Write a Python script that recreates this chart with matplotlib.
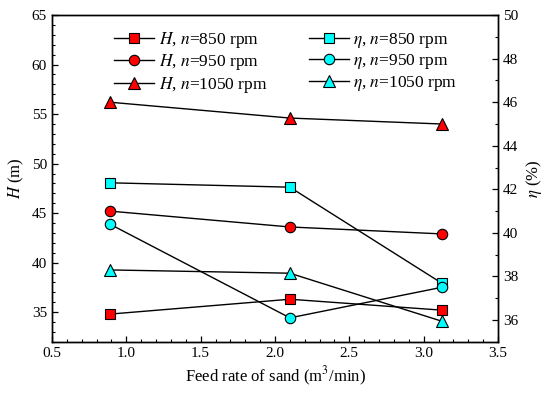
"""Head and efficiency vs. sand feed rate at three rotational speeds."""

import matplotlib
matplotlib.use("Agg")
import matplotlib.pyplot as plt
from matplotlib.ticker import MultipleLocator

# data
feed_rate = [0.89, 2.10, 3.12]
speeds = [850, 950, 1050]
head = {
    850: [34.8, 36.3, 35.2],
    950: [45.2, 43.6, 42.9],
    1050: [56.2, 54.6, 54.0],
}
eff = {
    850: [42.3, 42.1, 37.7],
    950: [40.4, 36.1, 37.5],
    1050: [38.3, 38.15, 35.95],
}
markers = {850: "s", 950: "o", 1050: "^"}

plt.rcParams.update({
    "font.family": "Liberation Serif",
    "mathtext.fontset": "stix",
    "font.size": 11,
    "xtick.direction": "in",
    "ytick.direction": "in",
})

fig = plt.figure(figsize=(5.5, 3.97), dpi=100)
ax = fig.add_axes([0.0945, 0.139, 0.811, 0.823])
ax2 = ax.twinx()

handles = []
for n in speeds:
    h, = ax.plot(feed_rate, head[n], color="black", lw=1.0,
                 marker=markers[n], ms=7.5 if n != 1050 else 8.5,
                 mfc="#ff0000", mec="black", mew=0.8,
                 label=f"$H$, $n$={n} rpm")
    handles.append(h)
for n in speeds:
    h, = ax2.plot(feed_rate, eff[n], color="black", lw=1.0,
                  marker=markers[n], ms=7.5 if n != 1050 else 8.5,
                  mfc="#00ffff", mec="black", mew=0.8,
                  label=f"$\\eta$, $n$={n} rpm")
    handles.append(h)

ax.set_xlim(0.5, 3.5)
ax.set_ylim(32, 65)
ax2.set_ylim(35, 50)

ax.xaxis.set_major_locator(MultipleLocator(0.5))
ax.xaxis.set_minor_locator(MultipleLocator(0.1))
ax.yaxis.set_major_locator(MultipleLocator(5))
ax.yaxis.set_minor_locator(MultipleLocator(1))
ax2.yaxis.set_major_locator(MultipleLocator(2))
ax2.yaxis.set_minor_locator(MultipleLocator(1))

for a in (ax, ax2):
    a.tick_params(which="major", length=4, width=0.9, labelsize=11)
    a.tick_params(which="minor", length=2.5, width=0.8)
    for sp in a.spines.values():
        sp.set_linewidth(1.0)
ax.tick_params(axis="y", which="both", right=False)
ax.tick_params(axis="x", which="both", top=False)

ax.set_xlabel("Feed rate of sand (m$^3$/min)", fontsize=12)
ax.set_ylabel("$H$ (m)", fontsize=12)
ax2.set_ylabel("$\\eta$ (%)", fontsize=12)

ax.legend(handles=handles, ncol=2, frameon=False, fontsize=12.5,
          loc="upper left", bbox_to_anchor=(0.105, 1.003),
          handlelength=2.3, columnspacing=2.4, labelspacing=0.15,
          handletextpad=0.25)

fig.savefig("out.png", dpi=100)
